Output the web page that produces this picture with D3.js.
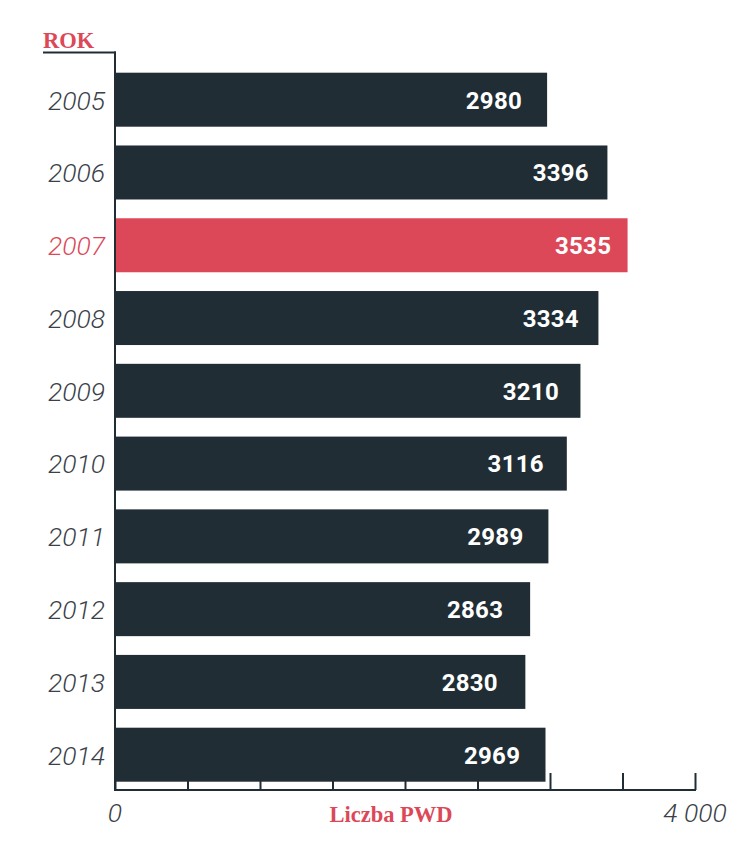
<!DOCTYPE html>
<html><head><meta charset="utf-8">
<script src="https://cdn.jsdelivr.net/npm/d3@7"></script>
<style>body{margin:0;background:#fff}svg{display:block}</style>
</head><body>
<svg id="c" width="752" height="848"></svg>
<script>
const years = ["2005","2006","2007","2008","2009","2010","2011","2012","2013","2014"];
const values = [2980,3396,3535,3334,3210,3116,2989,2863,2830,2969];
const highlight = "2007";
const xTicks = [0,500,1000,1500,2000,2500,3000,3500,4000];
const xTickLabels = {0:"0",4000:"4 000"};
const yTitle = "ROK";
const xTitle = "Liczba PWD";

const dark = "#212d35", red = "#dc4858", gray = "#3a4148";
const svg = d3.select("#c");
const x = d3.scaleLinear().domain([0,4000]).range([115,695]);
// label anchor positions (labels sit inside the bar end, slightly offset by value)
const xLabel = d3.scaleLinear().domain([0,4000]).range([43,686]);
const y = d3.scaleBand().domain(years).range([72.7,781.7]).paddingInner(0.258).paddingOuter(0);

// ticks (under bars)
const xAxis = d3.axisTop(x).tickValues(xTicks).tickSize(17).tickFormat("");
const gx = svg.append("g").attr("transform","translate(0,790)").call(xAxis);
gx.select(".domain").remove();
gx.selectAll(".tick line").attr("stroke",dark).attr("stroke-width",2);

// bars
svg.selectAll("rect.bar").data(years).join("rect")
  .attr("x",x(0)).attr("y",d=>y(d))
  .attr("width",(d,i)=>x(values[i])-x(0)).attr("height",y.bandwidth())
  .attr("fill",d=>d===highlight?red:dark);

// value labels
svg.selectAll("text.val").data(years).join("text")
  .attr("x",(d,i)=>xLabel(values[i])).attr("y",d=>y(d)+y.bandwidth()/2)
  .attr("dy","0.37em").attr("text-anchor","end")
  .attr("fill","#fff").attr("font-family","Roboto").attr("font-weight",700).attr("font-size",24)
  .attr("letter-spacing",0.3)
  .text((d,i)=>values[i]);

// y labels
svg.selectAll("text.yl").data(years).join("text")
  .attr("x",105).attr("y",d=>y(d)+y.bandwidth()/2)
  .attr("dy","0.37em").attr("text-anchor","end")
  .attr("fill",d=>d===highlight?red:gray).attr("font-family","Roboto").attr("font-weight",300)
  .attr("font-style","italic").attr("font-size",26.5)
  .text(d=>d);

// axes lines
svg.append("line").attr("x1",x(0)).attr("x2",x(0)).attr("y1",51.5).attr("y2",791)
  .attr("stroke",dark).attr("stroke-width",2);
svg.append("line").attr("x1",43).attr("x2",116).attr("y1",52.5).attr("y2",52.5)
  .attr("stroke",dark).attr("stroke-width",2);
svg.append("line").attr("x1",x(0)-1).attr("x2",x(4000)+1).attr("y1",790).attr("y2",790)
  .attr("stroke",dark).attr("stroke-width",2);

// x tick labels
svg.selectAll("text.xl").data(xTicks.filter(t=>xTickLabels[t]!==undefined)).join("text")
  .attr("x",d=>x(d)).attr("y",822).attr("text-anchor","middle")
  .attr("fill",gray).attr("font-family","Roboto").attr("font-weight",300)
  .attr("font-style","italic").attr("font-size",26.5)
  .text(d=>xTickLabels[d]);

// titles
svg.append("text").attr("x",43).attr("y",47.5).attr("fill",red)
  .attr("font-family","Liberation Serif").attr("font-weight",700).attr("font-size",22.5)
  .text(yTitle);
svg.append("text").attr("x",391).attr("y",822).attr("text-anchor","middle").attr("fill",red)
  .attr("font-family","Liberation Serif").attr("font-weight",700).attr("font-size",22.5)
  .text(xTitle);
</script>
</body></html>
